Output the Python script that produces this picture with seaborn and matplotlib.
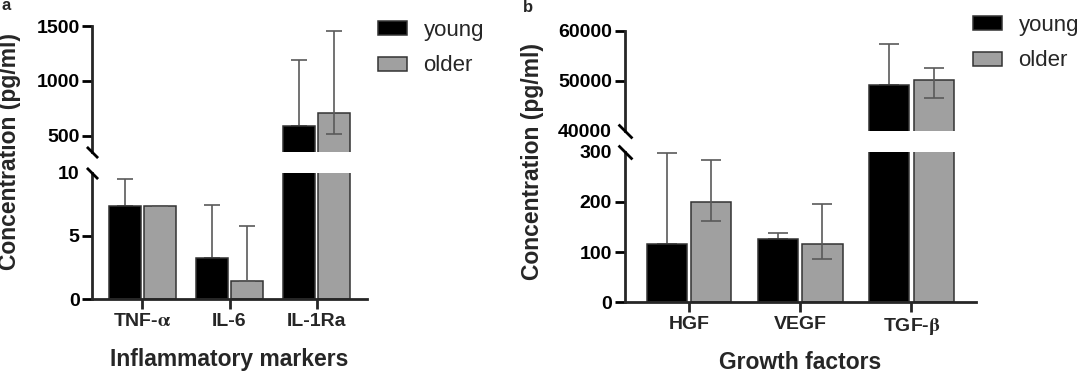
import numpy as np
import pandas as pd
import matplotlib
matplotlib.use('Agg')
import matplotlib.pyplot as plt
import seaborn as sns

# ---------------- data ----------------
groups = ['young', 'older']

markers = ['TNF-α', 'IL-6', 'IL-1Ra']
marker_ticklabels = ['TNF-$\\mathrm{\\alpha}$', 'IL-6', 'IL-1Ra']
young_a = [7.33, 3.23, 588]
young_a_hi = [9.5, 7.46, 1188]
older_a = [7.33, 1.43, 704]
older_a_lo = [7.33, 1.43, 510]
older_a_hi = [7.33, 5.78, 1457]

factors = ['HGF', 'VEGF', 'TGF-β']
factor_ticklabels = ['HGF', 'VEGF', 'TGF-$\\mathrm{\\beta}$']
young_b = [116, 127, 49100]
young_b_hi = [298, 138, 57300]
older_b = [200, 116, 50150]
older_b_lo = [162, 87, 46500]
older_b_hi = [283, 195, 52600]

# ---------------- style ----------------
sns.set_style('ticks')
plt.rcParams['font.family'] = ['Liberation Sans', 'DejaVu Sans']
plt.rcParams['font.weight'] = 'bold'
plt.rcParams['mathtext.fontset'] = 'stix'

W, H = 1080, 372
fig = plt.figure(figsize=(W / 100, H / 100), dpi=100)
fig.patch.set_facecolor('white')


def fbox(x0, x1, ytop, ybot):
    return [x0 / W, 1 - ybot / H, (x1 - x0) / W, (ybot - ytop) / H]


palette = {'young': 'black', 'older': '#a0a0a0'}
ERR_COLOR = '#5a5a5a'


def draw_panel(ax_lo, ax_hi, cats, ticklabels, ym, yhi, om, olo, ohi,
               lo_lim, hi_lim, lo_ticks, hi_ticks, hide_lo, hide_hi,
               capsize, mark_size):
    df = pd.DataFrame({'cat': cats * 2,
                       'group': ['young'] * len(cats) + ['older'] * len(cats),
                       'value': list(ym) + list(om)})
    for ax in (ax_lo, ax_hi):
        sns.barplot(data=df, x='cat', y='value', hue='group', order=cats,
                    hue_order=groups, palette=palette, width=0.8, gap=0.1,
                    saturation=1, edgecolor='#333333', linewidth=1.1,
                    errorbar=None, legend=(ax is ax_lo), ax=ax, zorder=2)
        yc, oc = ax.containers[0], ax.containers[1]
        xs_y = [p.get_x() + p.get_width() / 2 for p in yc]
        xs_o = [p.get_x() + p.get_width() / 2 for p in oc]
        ax.errorbar(xs_y, ym, yerr=[np.zeros(len(ym)), np.subtract(yhi, ym)],
                    fmt='none', ecolor=ERR_COLOR, elinewidth=1.2,
                    capsize=capsize, capthick=1.2, zorder=1)
        ax.errorbar(xs_o, om, yerr=[np.subtract(om, olo), np.subtract(ohi, om)],
                    fmt='none', ecolor=ERR_COLOR, elinewidth=1.2,
                    capsize=capsize, capthick=1.2, zorder=3)
        ax.set_xlim(-0.58, len(cats) - 1 + 0.58)
        ax.set_xlabel('')
        ax.set_ylabel('')
        ax.set_facecolor('none')
        for s in ('right', 'top'):
            ax.spines[s].set_visible(False)
        ax.spines['left'].set_linewidth(2)
        ax.spines['bottom'].set_linewidth(2)
        ax.tick_params(axis='y', length=7, width=2, pad=2, labelsize=14,
                       colors='black')

    ax_lo.set_ylim(*lo_lim)
    ax_hi.set_ylim(*hi_lim)
    ax_lo.set_yticks(lo_ticks)
    ax_hi.set_yticks(hi_ticks)
    ax_lo.set_yticklabels([str(t) for t in lo_ticks])
    ax_hi.set_yticklabels([str(t) for t in hi_ticks])
    for ax, hide in ((ax_lo, hide_lo), (ax_hi, hide_hi)):
        for t, v in zip(ax.yaxis.get_major_ticks(), ax.get_yticks()):
            if v in hide:
                t.tick1line.set_visible(False)

    ax_hi.spines['bottom'].set_visible(False)
    ax_hi.tick_params(axis='x', bottom=False, labelbottom=False)
    ax_lo.tick_params(axis='x', length=7, width=2, pad=3, labelsize=14)
    ax_lo.set_xticks(range(len(cats)))
    ax_lo.set_xticklabels(ticklabels)

    kw = dict(marker=[(-1, 1), (1, -1)], markersize=mark_size, linestyle='none',
              color='k', mec='k', mew=2, clip_on=False, zorder=5)
    ax_hi.plot([0], [0], transform=ax_hi.transAxes, **kw)
    ax_lo.plot([0], [1], transform=ax_lo.transAxes, **kw)

    leg = ax_lo.get_legend()
    handles = list(leg.legend_handles)
    labels = [t.get_text() for t in leg.get_texts()]
    leg.remove()
    return handles, labels


# ---------------- panel a ----------------
axa_lo = fig.add_axes(fbox(92, 367, 172.7, 299))
axa_hi = fig.add_axes(fbox(92, 367, 26, 152))
h, l = draw_panel(axa_lo, axa_hi, markers, marker_ticklabels,
                  young_a, young_a_hi, older_a, older_a_lo, older_a_hi,
                  (0, 10), (350, 1500), [0, 5, 10], [500, 1000, 1500],
                  [10], [], capsize=6, mark_size=8)
fig.legend(h, l, loc='upper left', bbox_to_anchor=(378 / W, 1 - 20 / H),
           frameon=False, prop={'size': 16, 'weight': 'normal'},
           handlelength=1.3, handleheight=0.59, handletextpad=0.75,
           labelspacing=0.65, borderpad=0, borderaxespad=0)
fig.text(10 / W, 1 - 152 / H, 'Concentration (pg/ml)', rotation=90,
         ha='center', va='center', fontsize=16.5, fontweight='bold')
fig.text(229.5 / W, 1 - 366 / H, 'Inflammatory markers', ha='center',
         va='baseline', fontsize=16.5, fontweight='bold')
fig.text(2 / W, 1 + 2 / H, 'a', ha='left', va='top', fontsize=12,
         fontweight='bold')

# ---------------- panel b ----------------
axb_lo = fig.add_axes(fbox(624.5, 976, 151.7, 302.3))
axb_hi = fig.add_axes(fbox(624.5, 976, 30.7, 130.7))
h, l = draw_panel(axb_lo, axb_hi, factors, factor_ticklabels,
                  young_b, young_b_hi, older_b, older_b_lo, older_b_hi,
                  (0, 300), (40000, 60000), [0, 100, 200, 300],
                  [40000, 50000, 60000], [300], [40000],
                  capsize=7, mark_size=10)
fig.legend(h, l, loc='upper left', bbox_to_anchor=(973 / W, 1 - 15 / H),
           frameon=False, prop={'size': 16, 'weight': 'normal'},
           handlelength=1.3, handleheight=0.59, handletextpad=0.75,
           labelspacing=0.65, borderpad=0, borderaxespad=0)
fig.text(532 / W, 1 - 161.5 / H, 'Concentration (pg/ml)', rotation=90,
         ha='center', va='center', fontsize=16.5, fontweight='bold')
fig.text(800 / W, 1 - 369 / H, 'Growth factors', ha='center',
         va='baseline', fontsize=16.5, fontweight='bold')
fig.text(523 / W, 1 - 0 / H, 'b', ha='left', va='top', fontsize=12,
         fontweight='bold')

fig.savefig('out.png', dpi=100, facecolor='white')
